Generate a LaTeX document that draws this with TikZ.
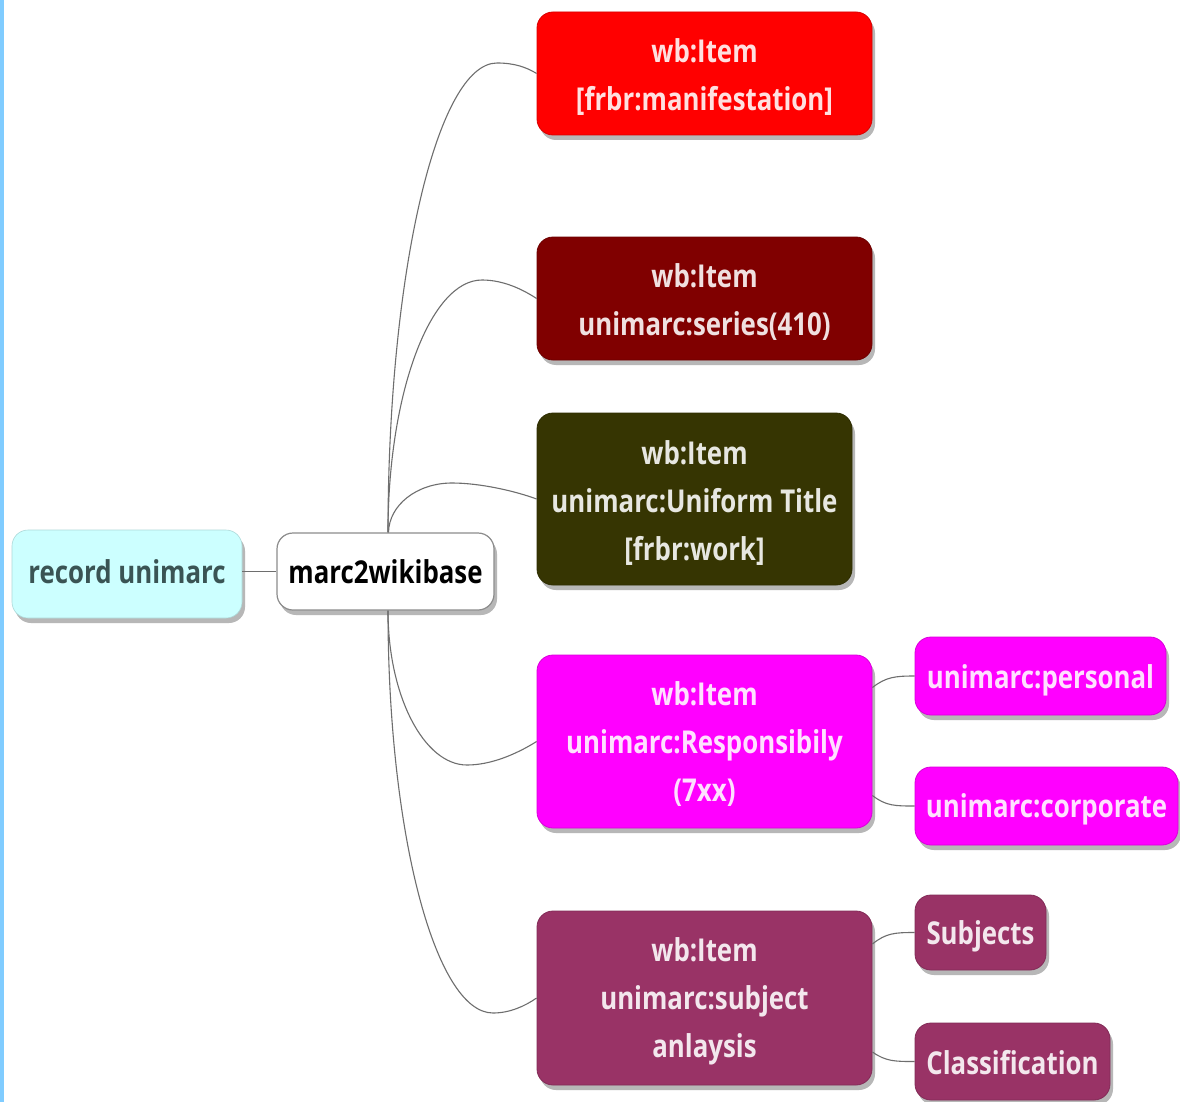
\documentclass[tikz,border=0pt]{standalone}
\usepackage{fontspec}
\setmainfont{Open Sans}[FakeStretch=0.82]
\usetikzlibrary{shadows,calc}
\definecolor{stripblue}{RGB}{128,204,255}
\definecolor{cyanfill}{RGB}{204,255,255}
\definecolor{cyantext}{RGB}{58,84,84}
\definecolor{redfill}{RGB}{255,0,0}
\definecolor{dredfill}{RGB}{128,0,0}
\definecolor{olivefill}{RGB}{54,53,2}
\definecolor{magfill}{RGB}{255,0,255}
\definecolor{purpfill}{RGB}{153,51,102}
\definecolor{connc}{RGB}{110,110,110}
\newcommand\tup[1]{\rule{0pt}{#1pt}}
\begin{document}
\begin{tikzpicture}[x=1pt,y=-1pt,
  box/.style={rounded corners=16pt, align=center, inner sep=0pt,
    font=\fontsize{31.5}{48}\selectfont\bfseries,
    drop shadow={shadow xshift=3pt, shadow yshift=-5pt, opacity=0.4, fill=black!70}},
  cbox/.style={box, fill=#1, draw=#1!85!black, line width=0.8pt, text=white!88!#1},
  conn/.style={draw=connc, line width=1.1pt}]
\fill[white] (0,0) rectangle (1180,1102);
\fill[stripblue] (0,0) rectangle (3.5,1102);
\useasboundingbox (0,0) rectangle (1180,1102);

\node[box, fill=cyanfill, draw=cyanfill!85!black, line width=0.6pt, text=cyantext,
      minimum width=230, minimum height=88] (rec) at (127,574)
  {\rule[-4pt]{0pt}{4pt}record unimarc};
\node[box, fill=white, draw=black!45, line width=1.2pt, text=black,
      minimum width=217, minimum height=77] (m2w) at (385.5,571.5) {marc2wikibase};

\node[cbox=redfill, minimum width=335, minimum height=123] (red) at (704.5,73.5)
  {\tup{31}wb:Item\\{}[frbr:manifestation]};
\node[cbox=dredfill, minimum width=335, minimum height=123] (dred) at (704.5,298.5)
  {\tup{31}wb:Item\\unimarc:series(410)};
\node[cbox=olivefill, minimum width=315, minimum height=172] (olive) at (694.5,499)
  {\tup{31}wb:Item\\unimarc:Uniform Title\\{}[frbr:work]};
\node[cbox=magfill, minimum width=335, minimum height=173] (mag) at (704.5,741.5)
  {\tup{29.5}wb:Item\\unimarc:Responsibily\\(7xx)};
\node[cbox=magfill, minimum width=251, minimum height=78] (pers) at (1040.5,676)
  {\tup{32}unimarc:personal};
\node[cbox=magfill, minimum width=263, minimum height=78] (corp) at (1046.5,806)
  {\tup{30}unimarc:corporate};
\node[cbox=purpfill, minimum width=335, minimum height=174] (purp) at (704.5,998)
  {\tup{31}wb:Item\\unimarc:subject\\anlaysis};
\node[cbox=purpfill, minimum width=131, minimum height=75] (subj) at (980.5,932.5)
  {\tup{31.5}Subjects};
\node[cbox=purpfill, minimum width=195, minimum height=77] (clas) at (1012.5,1061.5)
  {\tup{26}Classification};

\draw[conn] (rec.east |- m2w.west) -- (m2w.west);

\draw[conn] ($(m2w.north)+(2.5,0)$) .. controls (388,274) and (437,63) .. (497,63)
  .. controls (514,63) and (526,67) .. (red.west);
\draw[conn] ($(m2w.north)+(2.5,0)$) .. controls (388,394) and (430,280) .. (482,280)
  .. controls (503,280) and (522,289) .. (dred.west);
\draw[conn] ($(m2w.north)+(3,0)$) .. controls (389,505) and (417,483) .. (452,483)
  .. controls (480,483) and (515,491) .. (olive.west);
\draw[conn] ($(m2w.south)+(2.5,0)$) .. controls (388,696) and (424,765) .. (467,765)
  .. controls (490,765) and (515,755) .. (mag.west);
\draw[conn] ($(m2w.south)+(2.5,0)$) .. controls (388,832) and (435,1013) .. (493,1013)
  .. controls (510,1013) and (525,1006) .. (purp.west);

\draw[conn] ($(mag.east)+(0,-54)$) .. controls (886,677) and (895,676) .. (pers.west);
\draw[conn] ($(mag.east)+(0,54)$) .. controls (886,806) and (895,806) .. (corp.west);
\draw[conn] ($(purp.east)+(0,-54)$) .. controls (886,933) and (895,932.5) .. (subj.west);
\draw[conn] ($(purp.east)+(0,54)$) .. controls (886,1061.5) and (895,1061.5) .. (clas.west);
\end{tikzpicture}
\end{document}
